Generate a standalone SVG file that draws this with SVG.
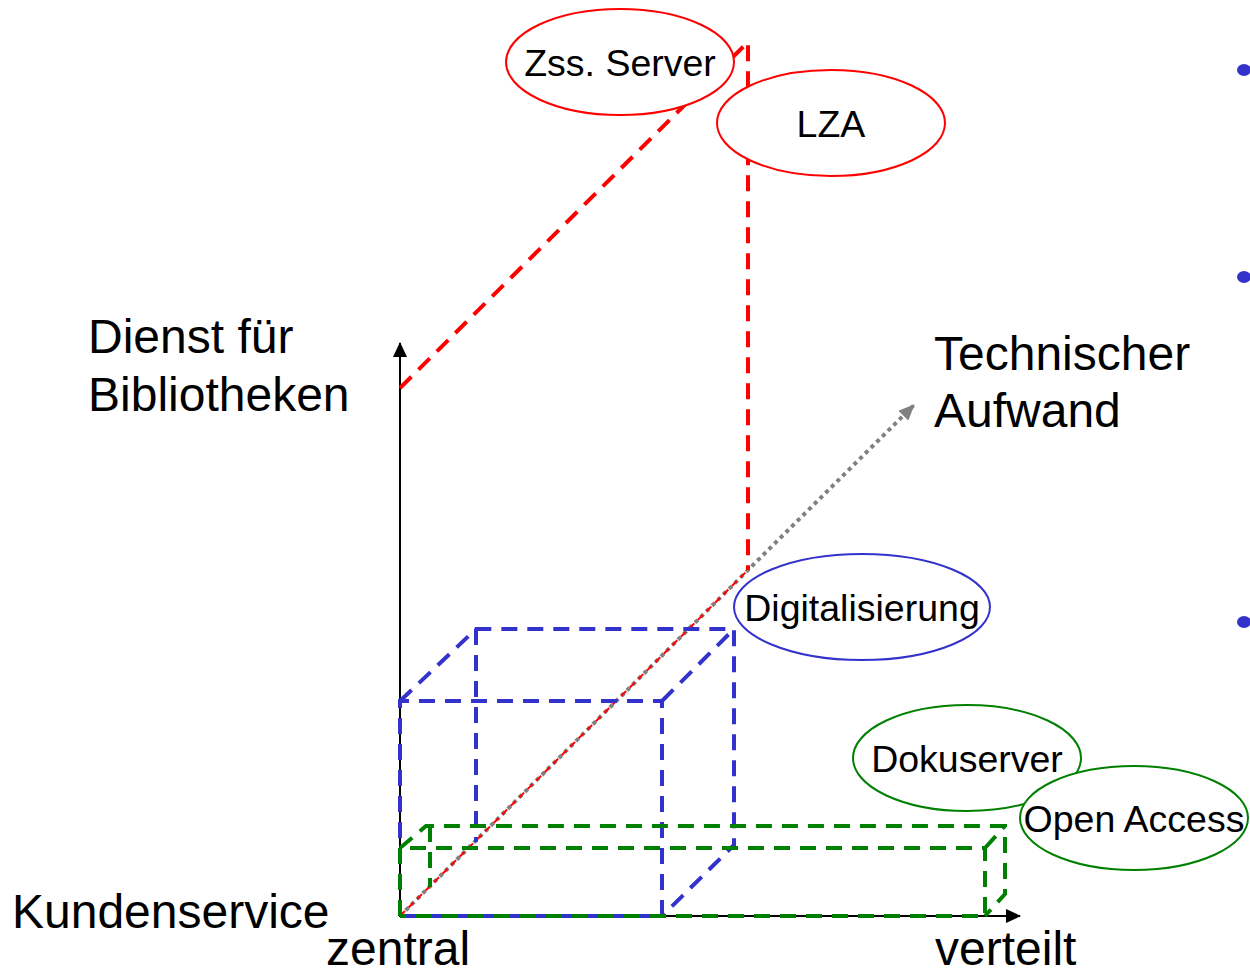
<svg xmlns="http://www.w3.org/2000/svg" width="1250" height="976" viewBox="0 0 1250 976">
<style>
text{font-family:"Liberation Sans",Arial,sans-serif;fill:#000}
.big{font-size:48px}
.lbl{font-size:37.5px}
.axis{stroke:#000;stroke-width:2;fill:none}
.red{stroke:#ff0000;stroke-width:4;stroke-dasharray:16 10;fill:none}
.redthin{stroke:#ff0000;stroke-width:2;stroke-dasharray:7 5;fill:none}
.blue{stroke:#3333cc;stroke-width:4;stroke-dasharray:16 10;fill:none}
.green{stroke:#008000;stroke-width:4;stroke-dasharray:16 10;fill:none}
.gray{stroke:#808080;stroke-width:4;stroke-dasharray:4 4;fill:none}
.er{fill:#fff;stroke:#ff0000;stroke-width:2}
.eb{fill:#fff;stroke:#3333cc;stroke-width:2}
.eg{fill:#fff;stroke:#008000;stroke-width:2}
</style>
<defs>
<marker id="ab" markerWidth="15" markerHeight="14" refX="14" refY="7" orient="auto" markerUnits="userSpaceOnUse"><path d="M0,0 L15,7 L0,14 z" fill="#000"/></marker>
<marker id="ag" markerWidth="16" markerHeight="14" refX="15" refY="7" orient="auto" markerUnits="userSpaceOnUse"><path d="M0,0 L16,7 L0,14 z" fill="#808080"/></marker>
</defs>
<g id="connectors">
<line class="axis" x1="400" y1="917" x2="400" y2="343" marker-end="url(#ab)"/>
<line class="axis" x1="399" y1="916" x2="1020" y2="916" marker-end="url(#ab)"/>
<line class="gray" x1="400" y1="916" x2="914" y2="405" marker-end="url(#ag)"/>
<line class="redthin" x1="400" y1="916" x2="748" y2="570"/>
<polyline class="red" points="400,388 748,42 748,570"/>
<polyline class="blue" points="400,916 400,701 662,701 662,916 400,916"/>
<polyline class="blue" points="400,701 476,629 734,629 734,845 662,916"/>
<line class="blue" x1="662" y1="701" x2="734" y2="629"/>
<line class="blue" x1="476" y1="629" x2="476" y2="842"/>
<polyline class="green" points="400,916 400,848 985,848 985,916 400,916"/>
<polyline class="green" points="400,848 426,826 1005,826 1005,894 985,916"/>
<line class="green" x1="985" y1="848" x2="1005" y2="826"/>
<line class="green" x1="430" y1="826" x2="430" y2="887"/>
</g>
<g id="zss-server"><ellipse class="er" cx="620" cy="62" rx="114" ry="53"/><text class="lbl" x="620" y="76" text-anchor="middle">Zss. Server</text></g>
<g id="lza"><ellipse class="er" cx="831" cy="123" rx="114" ry="53"/><text class="lbl" x="831" y="137" text-anchor="middle">LZA</text></g>
<g id="digitalisierung"><ellipse class="eb" cx="862" cy="607" rx="128" ry="53"/><text class="lbl" x="862" y="621" text-anchor="middle">Digitalisierung</text></g>
<g id="dokuserver"><ellipse class="eg" cx="967" cy="758" rx="114" ry="53"/><text class="lbl" x="967" y="772" text-anchor="middle">Dokuserver</text></g>
<g id="open-access"><ellipse class="eg" cx="1134" cy="818" rx="114" ry="52"/><text class="lbl" x="1134" y="832" text-anchor="middle">Open Access</text></g>
<g id="labels">
<text class="big" x="88" y="353">Dienst für</text>
<text class="big" x="88" y="411">Bibliotheken</text>
<text class="big" x="934" y="370">Technischer</text>
<text class="big" x="934" y="427">Aufwand</text>
<text class="big" x="12" y="928">Kundenservice</text>
<text class="big" x="326" y="965">zentral</text>
<text class="big" x="935" y="965">verteilt</text>
</g>
<g id="bullets" fill="#3333cc">
<ellipse cx="1244" cy="70" rx="7" ry="6"/>
<ellipse cx="1244" cy="277" rx="7" ry="6"/>
<ellipse cx="1244" cy="622" rx="7" ry="6"/>
</g>
</svg>
